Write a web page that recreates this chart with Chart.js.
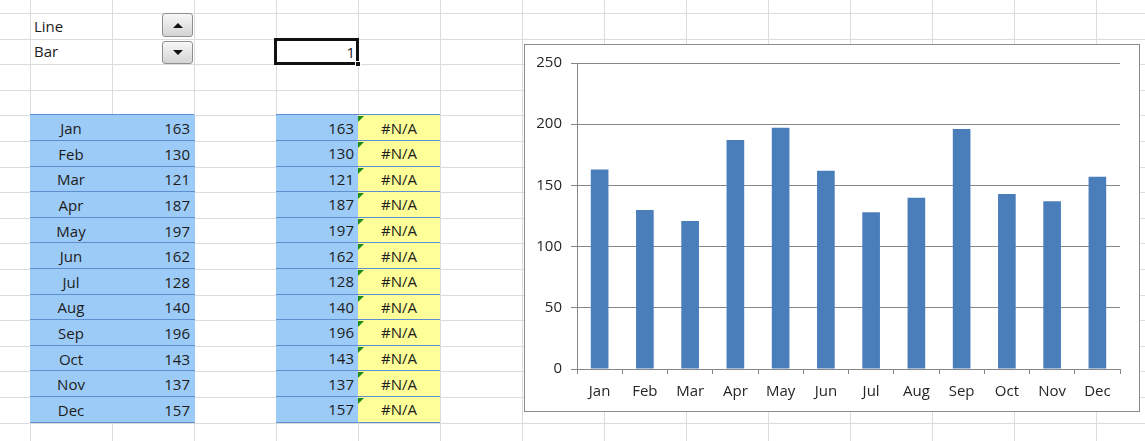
<!DOCTYPE html>
<html>
<head>
<meta charset="utf-8">
<script src="https://cdn.jsdelivr.net/npm/chart.js@4"></script>
<style>
html, body { margin: 0; padding: 0; background: #fff; overflow: hidden; }
body { width: 1145px; height: 441px; position: relative; font-family: "Open Sans", sans-serif; font-size: 15px; color: #1c1c1c; }
.vl { position: absolute; top: 0; width: 1px; height: 441px; background: #dadcdd; }
.hl { position: absolute; left: 0; width: 1145px; height: 1px; background: #dadcdd; }
.cell { position: absolute; box-sizing: border-box; display: flex; align-items: center; white-space: nowrap; }
.blue { background: #9dcbf7; border-bottom: 1px solid #5f8fcf; }
.yellow { background: #ffff99; border-bottom: 1px solid #5f8fcf; }
.err { position: absolute; width: 0; height: 0; border-top: 6px solid #1f8a1f; border-right: 6px solid transparent; }
.spin { position: absolute; left: 162px; width: 31px; box-sizing: border-box; border: 1px solid #8e8f8f; border-radius: 3px;
        background: linear-gradient(#f7f7f7, #d4d4d4); display: flex; align-items: center; justify-content: center; }
.tri-up { width: 0; height: 0; border-left: 5px solid transparent; border-right: 5px solid transparent; border-bottom: 5px solid #111; }
.tri-dn { width: 0; height: 0; border-left: 5px solid transparent; border-right: 5px solid transparent; border-top: 5px solid #111; }
#chartBox { position: absolute; left: 524px; top: 44px; width: 616px; height: 368px; box-sizing: border-box;
            border: 1px solid #8c8c8c; background: #fff; }
#chartWrap { position: relative; width: 614px; height: 366px; }
</style>
</head>
<body>
<div id="chartBox"><div id="chartWrap"><canvas id="barChart"></canvas></div></div>
<script>
var months = ['Jan', 'Feb', 'Mar', 'Apr', 'May', 'Jun', 'Jul', 'Aug', 'Sep', 'Oct', 'Nov', 'Dec'];
var values = [163, 130, 121, 187, 197, 162, 128, 140, 196, 143, 137, 157];
var chartTypes = ['Line', 'Bar'];
var selectedType = 1;
var naText = '#N/A';
var yMax = 250;
var yStep = 50;

// sheet grid
var ROW0 = 13, ROWH = 25.6, COL0 = 30, COLW = 82;
function rowY(i) { return ROW0 + ROWH * i; }
function colX(i) { return COL0 + COLW * i; }

function add(cls, css, text) {
    var d = document.createElement('div');
    d.className = cls;
    Object.assign(d.style, css);
    if (text !== undefined) d.textContent = text;
    document.body.insertBefore(d, document.getElementById('chartBox'));
    return d;
}

for (var r = 0; r < 18; r++) add('hl', { top: rowY(r) + 'px' });
for (var c = 0; c < 14; c++) add('vl', { left: colX(c) + 'px' });

// option labels and spinner
chartTypes.forEach(function(t, i) {
    add('cell', { left: colX(0) + 4 + 'px', top: rowY(i) + 'px', height: ROWH + 'px' }, t);
});
add('spin', { top: '13px', height: '24px' }).appendChild(document.createElement('div')).className = 'tri-up';
add('spin', { top: '41px', height: '23px' }).appendChild(document.createElement('div')).className = 'tri-dn';

// selected cell
add('cell', { left: '274px', top: '38px', width: '85px', height: '27px', border: '3px solid #111',
              justifyContent: 'flex-end', paddingRight: '1px', background: '#fff' }, String(selectedType));
add('cell', { left: '355px', top: '61px', width: '6px', height: '6px', background: '#111', border: '1px solid #fff' });

// data table
add('cell', { left: colX(0) + 'px', top: rowY(4) - 1 + 'px', width: COLW * 2 + 'px', height: '1px', background: '#5f8fcf' });
add('cell', { left: colX(3) + 'px', top: rowY(4) - 1 + 'px', width: COLW * 2 + 'px', height: '1px', background: '#5f8fcf' });
months.forEach(function(m, i) {
    var y = rowY(4 + i);
    var h = ROWH + 'px';
    add('cell blue', { left: colX(0) + 'px', top: y + 'px', width: COLW * 2 + 1 + 'px', height: h });
    add('cell', { left: colX(0) + 'px', top: y + 'px', width: COLW + 'px', height: h, justifyContent: 'center' }, m);
    add('cell', { left: colX(1) + 'px', top: y + 'px', width: COLW - 4 + 'px', height: h, justifyContent: 'flex-end' }, values[i]);
    add('cell blue', { left: colX(3) + 'px', top: y + 'px', width: COLW - 4 + 'px', height: h, justifyContent: 'flex-end' }, values[i]);
    add('cell yellow', { left: colX(4) + 'px', top: y + 'px', width: COLW + 'px', height: h, justifyContent: 'center' }, naText);
    add('cell blue', { left: colX(4) - 4 + 'px', top: y + 'px', width: '4px', height: h });
    add('err', { left: colX(4) + 'px', top: y + 1 + 'px' });
});

var axisFont = { family: 'Open Sans', size: 15 };
var axisGray = '#868686';

new Chart(document.getElementById('barChart'), {
    type: 'bar',
    data: {
        labels: months,
        datasets: [{ data: values, backgroundColor: '#4a7ebb', borderWidth: 0, barPercentage: 1, categoryPercentage: 0.39 }]
    },
    options: {
        responsive: true,
        maintainAspectRatio: false,
        animation: false,
        devicePixelRatio: 1,
        layout: { padding: { top: 16, right: 19, left: 0, bottom: 0 } },
        plugins: { legend: { display: false }, tooltip: { enabled: false } },
        scales: {
            x: {
                grid: { offset: true, drawOnChartArea: false, tickLength: 5, color: axisGray },
                border: { color: axisGray },
                ticks: { padding: 9, font: axisFont, color: '#262626', maxRotation: 0, autoSkip: false },
                afterFit: function(s) { s.height = 42; }
            },
            y: {
                min: 0,
                max: yMax,
                grid: { tickLength: 6, color: axisGray },
                border: { color: axisGray },
                ticks: { stepSize: yStep, padding: 9, font: axisFont, color: '#262626' },
                afterFit: function(s) { s.width = 52; }
            }
        }
    }
});
</script>
</body>
</html>
